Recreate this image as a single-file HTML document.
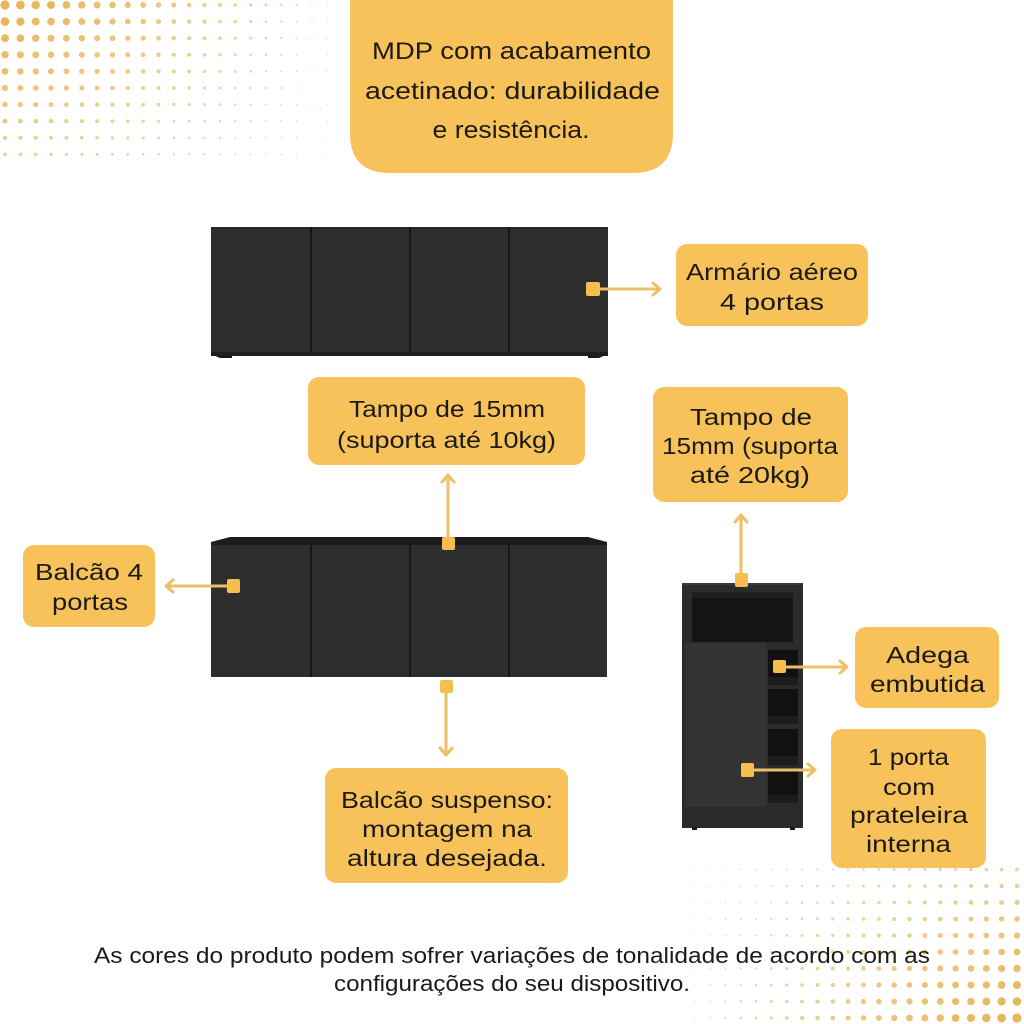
<!DOCTYPE html>
<html>
<head>
<meta charset="utf-8">
<style>
html,body{margin:0;padding:0;background:#fff;}
svg{display:block;}
text{font-family:"Liberation Sans",sans-serif;fill:#1c1a17;}
</style>
</head>
<body>
<svg id="s" width="1024" height="1024" viewBox="0 0 1024 1024" xmlns="http://www.w3.org/2000/svg">
<rect width="1024" height="1024" fill="#fff"/>
<g id="dots"></g>

<!-- Top box -->
<path d="M350 0 H673 V133 Q673 173 633 173 H390 Q350 173 350 133 Z" fill="#F8C25B"/>
<text x="511.5" y="59" font-size="24" text-anchor="middle" textLength="279" lengthAdjust="spacingAndGlyphs">MDP com acabamento</text>
<text x="512.5" y="99" font-size="24" text-anchor="middle" textLength="295" lengthAdjust="spacingAndGlyphs">acetinado: durabilidade</text>
<text x="511" y="138" font-size="24" text-anchor="middle" textLength="157" lengthAdjust="spacingAndGlyphs">e resistência.</text>

<!-- Upper cabinet -->
<polygon points="211,352 232,352 232,358 220,358 211,354" fill="#1a1a1a"/>
<polygon points="588,352 608,352 608,354 599,358 588,358" fill="#1a1a1a"/>
<rect x="211" y="352" width="397" height="4" fill="#1e1e1e"/>
<rect x="211" y="227" width="397" height="125" fill="#2e2e2e"/>
<rect x="211" y="227" width="397" height="2" fill="#262626"/>
<rect x="310" y="227" width="2" height="125" fill="#161616"/>
<rect x="409" y="227" width="2" height="125" fill="#161616"/>
<rect x="508" y="227" width="2" height="125" fill="#161616"/>

<!-- Lower cabinet -->
<polygon points="211,545 211,542 230,537 588,537 607,542 607,545" fill="#1c1c1c"/>
<rect x="211" y="545" width="396" height="132" fill="#2e2e2e"/>
<rect x="310" y="545" width="2" height="132" fill="#161616"/>
<rect x="409" y="545" width="2" height="132" fill="#161616"/>
<rect x="508" y="545" width="2" height="132" fill="#161616"/>

<!-- Tall cabinet -->
<rect x="682" y="583" width="121" height="245" fill="#2b2b2b"/>
<rect x="682" y="583" width="121" height="2" fill="#3a3a3a"/>
<rect x="692" y="592" width="101" height="50" fill="#141414"/>
<rect x="692" y="592" width="101" height="6" fill="#1e1e1e"/>
<rect x="768" y="650" width="30" height="35" fill="#111"/>
<rect x="768" y="689" width="30" height="35" fill="#111"/>
<rect x="768" y="729" width="30" height="36" fill="#111"/>
<rect x="768" y="769" width="30" height="34" fill="#111"/>
<rect x="768" y="677" width="30" height="8" fill="#1c1c1c"/>
<rect x="768" y="716" width="30" height="8" fill="#1c1c1c"/>
<rect x="768" y="756" width="30" height="9" fill="#1c1c1c"/>
<rect x="768" y="795" width="30" height="8" fill="#1c1c1c"/>
<rect x="685" y="643" width="81" height="164" fill="#333"/>
<rect x="682" y="807" width="121" height="21" fill="#2a2a2a"/>
<rect x="692" y="827" width="5" height="3" fill="#1a1a1a"/>
<rect x="790" y="827" width="5" height="3" fill="#1a1a1a"/>

<!-- Connectors -->
<g stroke="#EDBF66" stroke-width="3" fill="none" stroke-linecap="round" stroke-linejoin="round">
  <line x1="600" y1="289" x2="659" y2="289"/>
  <polyline points="653,283 660,289 653,295"/>
  <line x1="227" y1="586" x2="167" y2="586"/>
  <polyline points="173,580 166,586 173,592"/>
  <line x1="448" y1="537" x2="448" y2="476"/>
  <polyline points="442,482 448,475 454,482"/>
  <line x1="446" y1="693" x2="446" y2="754"/>
  <polyline points="440,748 446,755 452,748"/>
  <line x1="741" y1="573" x2="741" y2="516"/>
  <polyline points="735,522 741,515 747,522"/>
  <line x1="786" y1="667" x2="846" y2="667"/>
  <polyline points="840,661 847,667 840,673"/>
  <line x1="754" y1="770" x2="814" y2="770"/>
  <polyline points="808,764 815,770 808,776"/>
</g>
<g fill="#F5BE4F">
  <rect x="586" y="282" width="14" height="14" rx="2"/>
  <rect x="227" y="579" width="13" height="14" rx="2"/>
  <rect x="442" y="537" width="13" height="13" rx="2"/>
  <rect x="440" y="680" width="13" height="13" rx="2"/>
  <rect x="735" y="573" width="13" height="14" rx="2"/>
  <rect x="773" y="660" width="13" height="13" rx="2"/>
  <rect x="741" y="763" width="13" height="14" rx="2"/>
</g>

<!-- Label boxes -->
<g fill="#F8C25B">
  <rect x="676" y="244" width="192" height="82" rx="11"/>
  <rect x="308" y="377" width="277" height="88" rx="11"/>
  <rect x="653" y="387" width="195" height="115" rx="11"/>
  <rect x="23" y="545" width="132" height="82" rx="11"/>
  <rect x="325" y="768" width="243" height="115" rx="11"/>
  <rect x="855" y="627" width="144" height="81" rx="11"/>
  <rect x="831" y="729" width="155" height="139" rx="11"/>
</g>

<g font-size="23" text-anchor="middle">
  <text x="772" y="280" textLength="172" lengthAdjust="spacingAndGlyphs">Armário aéreo</text>
  <text x="772" y="310" textLength="104" lengthAdjust="spacingAndGlyphs">4 portas</text>

  <text x="447" y="417" textLength="196" lengthAdjust="spacingAndGlyphs">Tampo de 15mm</text>
  <text x="446.5" y="448" textLength="219" lengthAdjust="spacingAndGlyphs">(suporta até 10kg)</text>

  <text x="751" y="425" textLength="122" lengthAdjust="spacingAndGlyphs">Tampo de</text>
  <text x="750" y="454" textLength="176" lengthAdjust="spacingAndGlyphs">15mm (suporta</text>
  <text x="750" y="483" textLength="120" lengthAdjust="spacingAndGlyphs">até 20kg)</text>

  <text x="89" y="580" textLength="108" lengthAdjust="spacingAndGlyphs">Balcão 4</text>
  <text x="90" y="610" textLength="76" lengthAdjust="spacingAndGlyphs">portas</text>

  <text x="447" y="808" textLength="212" lengthAdjust="spacingAndGlyphs">Balcão suspenso:</text>
  <text x="447" y="837" textLength="170" lengthAdjust="spacingAndGlyphs">montagem na</text>
  <text x="447" y="866" textLength="200" lengthAdjust="spacingAndGlyphs">altura desejada.</text>

  <text x="927.5" y="663" textLength="83" lengthAdjust="spacingAndGlyphs">Adega</text>
  <text x="927.5" y="692" textLength="115" lengthAdjust="spacingAndGlyphs">embutida</text>

  <text x="908.5" y="765" textLength="81" lengthAdjust="spacingAndGlyphs">1 porta</text>
  <text x="909" y="795" textLength="52" lengthAdjust="spacingAndGlyphs">com</text>
  <text x="909" y="823" textLength="118" lengthAdjust="spacingAndGlyphs">prateleira</text>
  <text x="908.5" y="852" textLength="85" lengthAdjust="spacingAndGlyphs">interna</text>
</g>

<g font-size="22" text-anchor="middle">
  <text x="512" y="963" textLength="836" lengthAdjust="spacingAndGlyphs">As cores do produto podem sofrer variações de tonalidade de acordo com as</text>
  <text x="512" y="991" textLength="356" lengthAdjust="spacingAndGlyphs">configurações do seu dispositivo.</text>
</g>
</svg>
<script>
(function(){
  var g=document.getElementById('dots');
  var html='';
  function dot(x,y,r,o){
    if(r<0.35) return;
    html+='<circle cx="'+x.toFixed(1)+'" cy="'+y.toFixed(1)+'" r="'+r.toFixed(2)+'" fill="#E8B75C" fill-opacity="'+o.toFixed(2)+'"/>';
  }
  function rad(c,r){
    var a=Math.max(0,1-c/21.5), b=Math.max(0,1-r*0.075);
    return 0.6+4.0*a*b;
  }
  var c,r,rr,op;
  // top-left
  for(r=0;r<10;r++){
    for(c=0;c<22;c++){
      rr=rad(c,r);
      op=Math.max(0.4,Math.min(1,0.4+rr*0.14));
      dot(5+15.35*c,5+16.6*r,rr,op);
    }
  }
  // bottom-right
  for(r=0;r<10;r++){
    for(c=0;c<22;c++){
      rr=rad(c,r);
      op=Math.max(0.4,Math.min(1,0.4+rr*0.14));
      dot(1017-15.35*c,1018-16.5*r,rr,op);
    }
  }
  g.innerHTML=html;
})();
</script>
</body>
</html>
